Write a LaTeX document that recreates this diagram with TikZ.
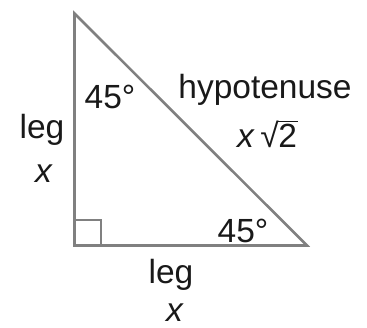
\documentclass[tikz,border=0pt]{standalone}
\usepackage{fontspec}
\setmainfont{Liberation Sans}
\begin{document}
\begin{tikzpicture}[x=1pt,y=-1pt,
  edge/.style={draw=black!50,line width=2.6pt,line join=miter},
  lbl/.style={anchor=base,inner sep=0pt,text=black!90,font=\fontsize{33.5}{40}\selectfont}]
\useasboundingbox (0,0) rectangle (367,327);
\coordinate (A) at (74.5,13.5);
\coordinate (B) at (74.5,245.5);
\coordinate (C) at (307,245.5);
\draw[edge] (A) -- (B) -- (C) -- cycle;
\coordinate (S1) at (100.5,245.5);
\coordinate (S2) at (100.5,219.5);
\coordinate (S3) at (74.5,219.5);
\draw[draw=black!50,line width=2pt] (S1) -- (S2) -- (S3);
\node[lbl] (a1) at (110,108) {45°};
\node[lbl] (a2) at (243,242) {45°};
\node[lbl] (hyp) at (265,98) {hypotenuse};
\node[lbl] (hx) at (267,147) {\textit{x}\,√\kern-0.5pt\rlap{\rule[25pt]{20pt}{1.2pt}}2};
\node[lbl] (l1) at (42,138) {leg};
\node[lbl] (x1) at (44,182) {\textit{x}};
\node[lbl] (l2) at (171,283) {leg};
\node[lbl] (x2) at (175,321) {\textit{x}};
\end{tikzpicture}
\end{document}
